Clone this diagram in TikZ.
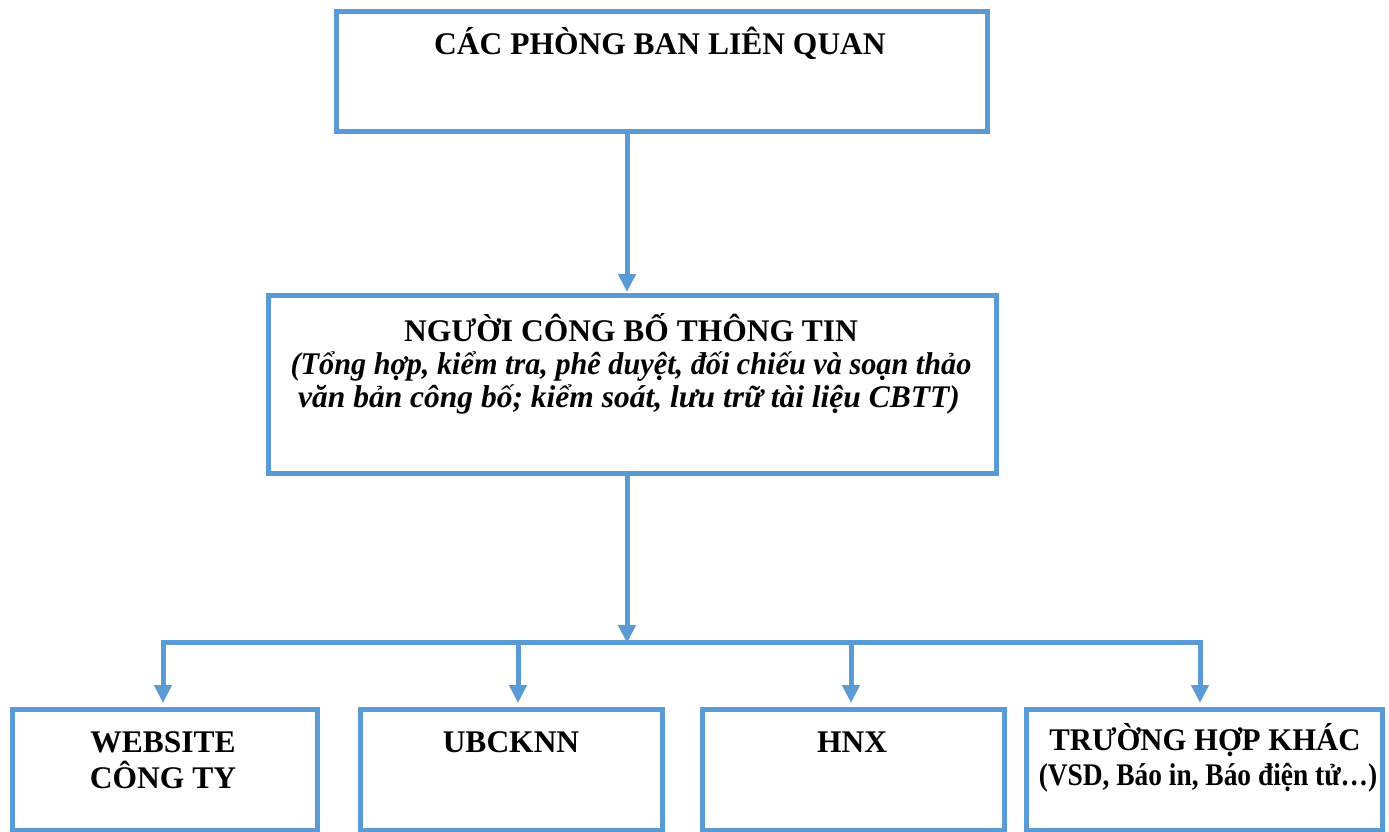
\documentclass[tikz,border=0pt]{standalone}
\usepackage{fontspec}
\usepackage{graphicx}
\setmainfont{Liberation Serif}
\usetikzlibrary{arrows.meta,calc}
\definecolor{boxblue}{HTML}{5B9BD5}
\begin{document}
\begin{tikzpicture}[x=1pt,y=-1pt,
  box/.style={draw=boxblue,line width=5pt,rectangle,inner sep=0pt,outer sep=0pt},
  arr/.style={draw=boxblue,line width=5pt,-{Triangle[width=17pt,length=18pt]}},
  conn/.style={draw=boxblue,line width=5pt},
  lbl/.style={anchor=base,inner sep=0pt,font=\fontsize{31.5}{35}\selectfont\bfseries,align=center},
  ilbl/.style={anchor=base,inner sep=0pt,font=\fontsize{31.5}{35}\selectfont\bfseries\itshape,align=center}]
\useasboundingbox (0,0) rectangle (1389,832);
\fill[white] (0,0) rectangle (1389,832);
% boxes
\node[box,minimum width=651pt,minimum height=120pt] (top) at (661.5,71.5) {};
\node[box,minimum width=728pt,minimum height=178pt] (mid) at (632,384) {};
\node[box,minimum width=305pt,minimum height=121pt] (b1) at (164.5,769.5) {};
\node[box,minimum width=302pt,minimum height=121pt] (b2) at (511,769.5) {};
\node[box,minimum width=302pt,minimum height=121pt] (b3) at (853,769.5) {};
\node[box,minimum width=356pt,minimum height=121pt] (b4) at (1204,769.5) {};
% texts
\node[lbl] (ttop) at (660,55) {CÁC PHÒNG BAN LIÊN QUAN};
\node[lbl] (tmid1) at (631,341) {NGƯỜI CÔNG BỐ THÔNG TIN};
\node[ilbl] (tmid2) at (631,374) {\scalebox{0.96}[1]{(Tổng hợp, kiểm tra, phê duyệt, đối chiếu và soạn thảo}};
\node[ilbl] (tmid3) at (629,407) {văn bản công bố; kiểm soát, lưu trữ tài liệu CBTT)};
\node[lbl] (tb1a) at (163,752) {WEBSITE};
\node[lbl] (tb1b) at (163,788) {CÔNG TY};
\node[lbl] (tb2) at (511,752) {UBCKNN};
\node[lbl] (tb3) at (852,752) {HNX};
\node[lbl] (tb4a) at (1205,750) {\scalebox{0.975}[1]{TRƯỜNG HỢP KHÁC}};
\node[lbl] (tb4b) at (1208,785) {\scalebox{0.87}[1]{(VSD, Báo in, Báo điện tử…)}};
% connectors
\coordinate (hub) at (627,642);
\coordinate (j1) at (163,642);
\coordinate (j2) at (518,642);
\coordinate (j3) at (851,642);
\coordinate (j4) at (1200,642);
\draw[arr,shorten >=3pt] (top.south -| hub) -- (mid.north -| hub);
\draw[arr,shorten >=-1pt] (mid.south -| hub) -- (hub);
\draw[conn] ($(j1)+(-2.5,0)$) -- ($(j4)+(2.5,0)$);
\draw[arr,shorten >=6pt] ($(j1)+(0,-2.5)$) -- (j1 |- b1.north);
\draw[arr,shorten >=6pt] (j2) -- (j2 |- b2.north);
\draw[arr,shorten >=6pt] (j3) -- (j3 |- b3.north);
\draw[arr,shorten >=6pt] ($(j4)+(0,-2.5)$) -- (j4 |- b4.north);
\end{tikzpicture}
\end{document}
